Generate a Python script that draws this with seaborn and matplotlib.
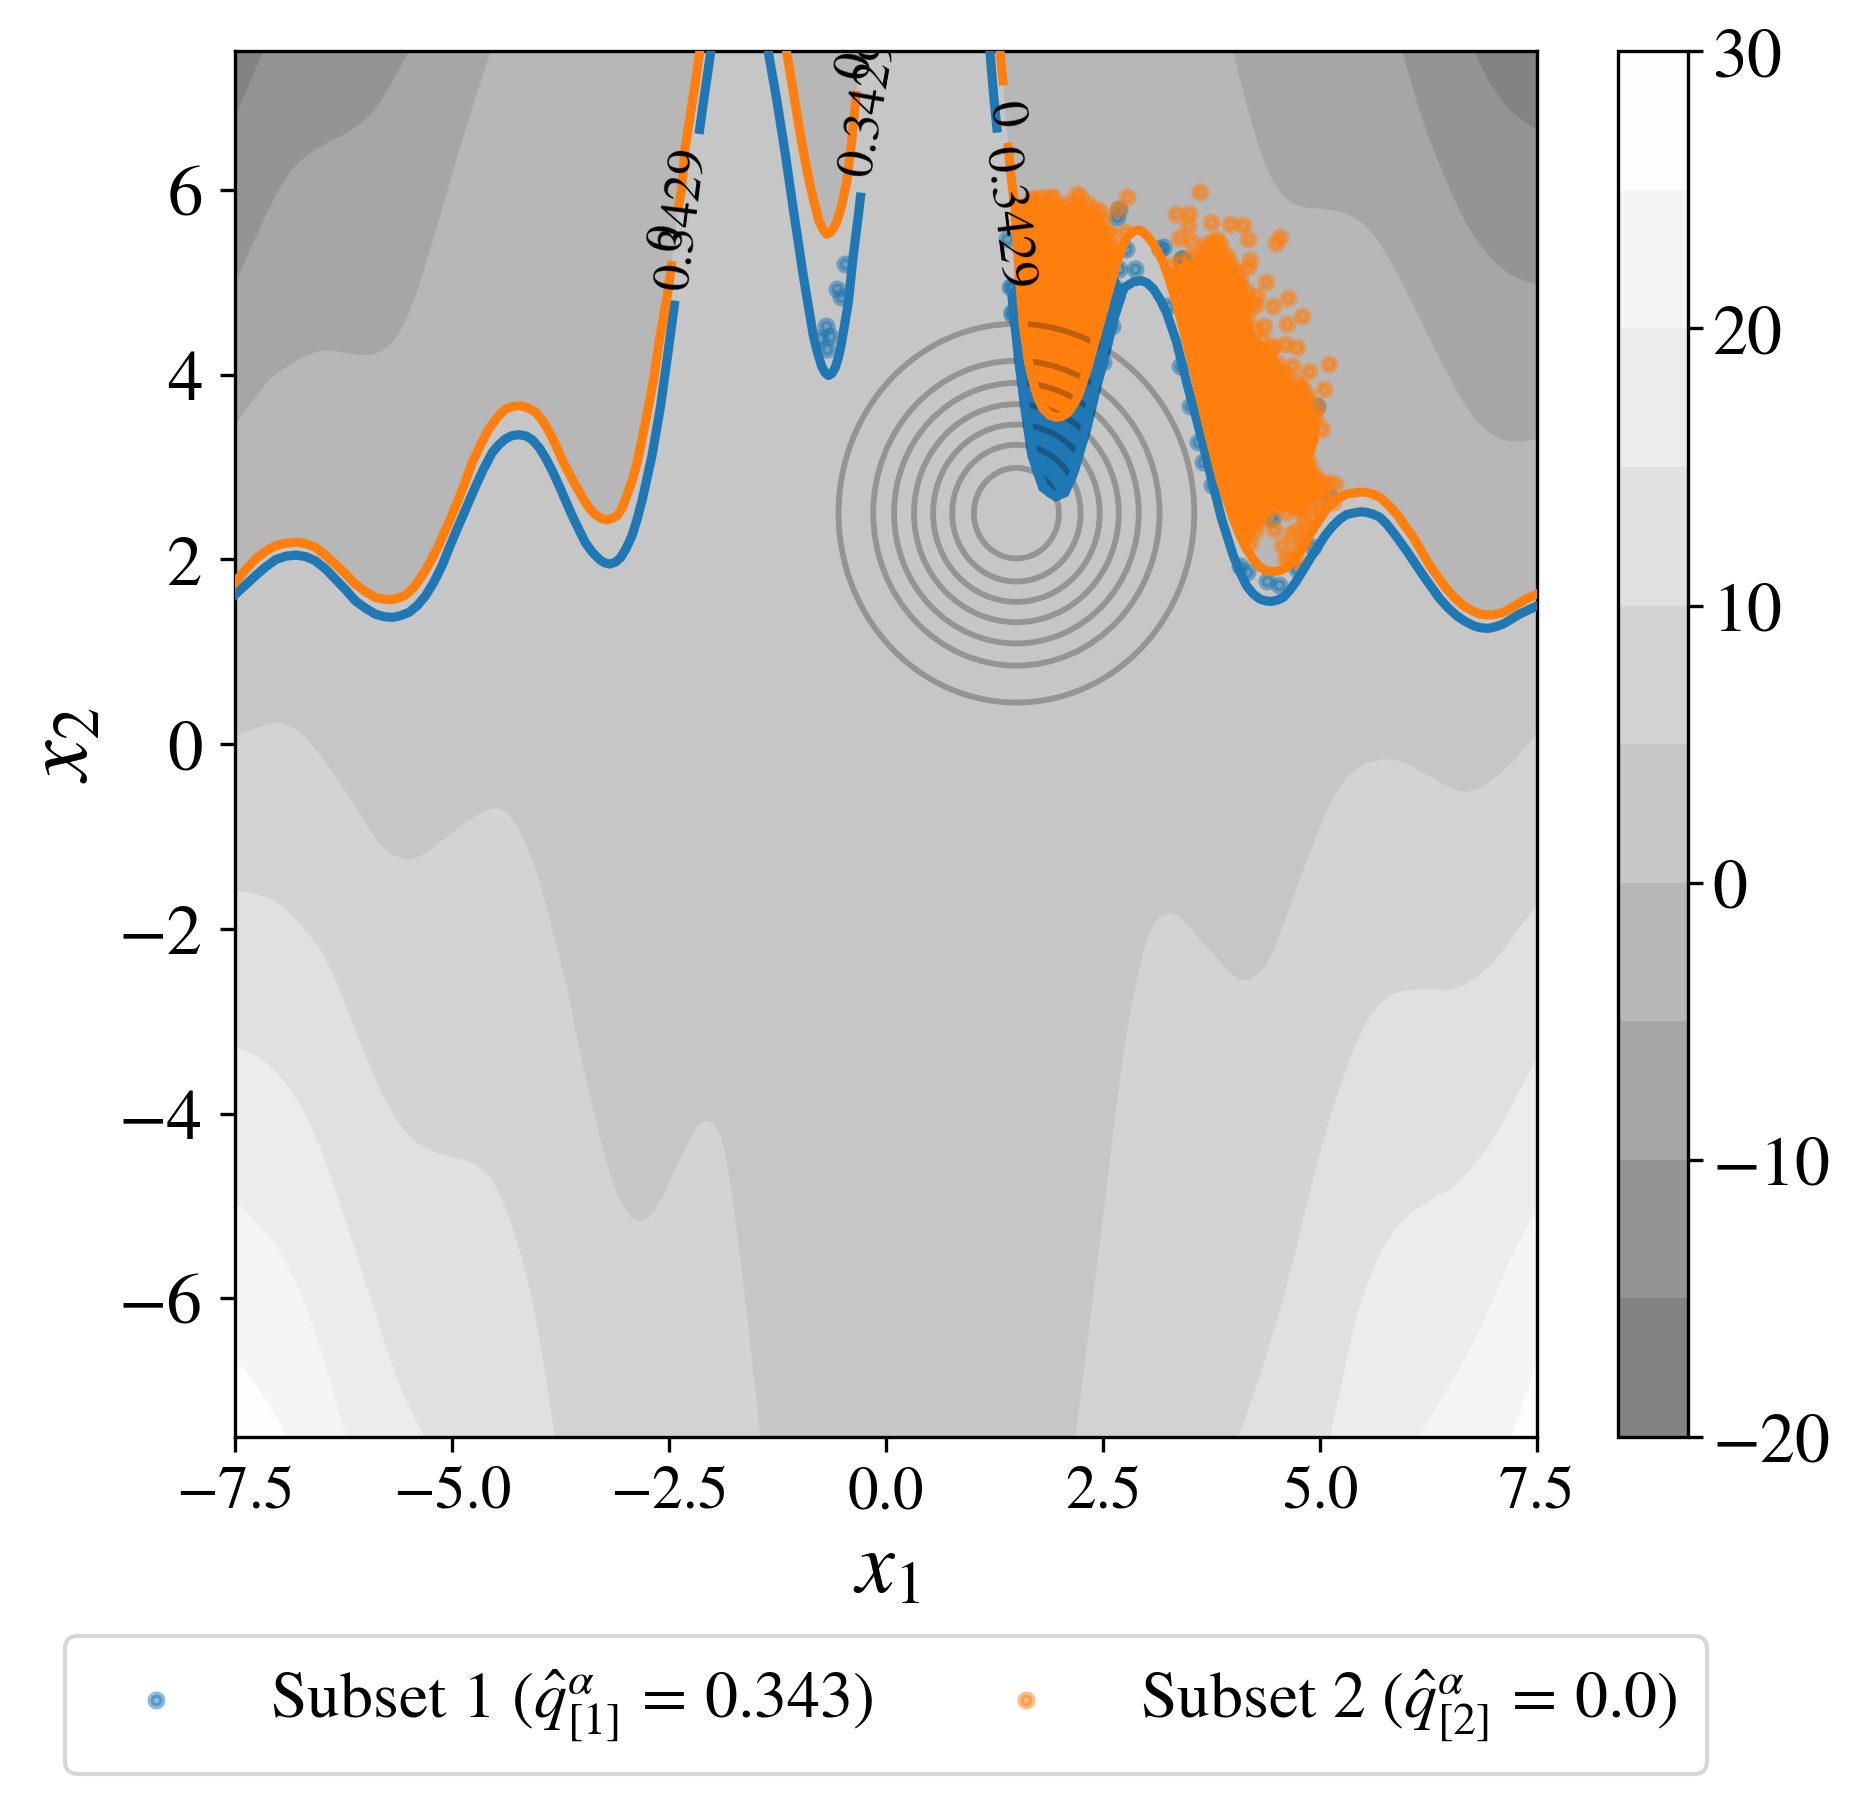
"""Contour bands, q-level curves and the two sample subsets, x1/x2 plane."""
import matplotlib

matplotlib.use("Agg")
import matplotlib.pyplot as plt
from matplotlib.cm import ScalarMappable
from matplotlib.colors import BoundaryNorm, ListedColormap
from matplotlib.patches import Circle, PathPatch
from matplotlib.path import Path
import seaborn as sns

# ---------- Data ----------

LEVELS = [-20, -15, -10, -5, 0, 5, 10, 15, 20, 25, 30]
BAND_COLORS = ["#838383", "#949494", "#a6a6a6", "#b7b7b7", "#c6c6c6",
               "#d3d3d3", "#e0e0e0", "#ececec", "#f5f5f5", "#fdfdfd"]
CBAR_TICKS = [-20, -10, 0, 10, 20, 30]
XTICKS = [-7.5, -5.0, -2.5, 0.0, 2.5, 5.0, 7.5]
YTICKS = [-6, -4, -2, 0, 2, 4, 6]

# q = 0.343 curve (blue), split where the contour labels cut it
blue_a_x = [-7.55, -7.4, -7.27, -7.15, -7.04, -6.92, -6.80, -6.69, -6.58, -6.46, -6.35, -6.23, -6.12, -6.0, -5.89,
            -5.79, -5.69, -5.60, -5.50, -5.40, -5.31, -5.21, -5.12, -5.03, -4.93, -4.83, -4.73, -4.64, -4.54, -4.46,
            -4.39, -4.31, -4.23, -4.15, -4.08, -4.0, -3.93, -3.85, -3.77, -3.62, -3.47, -3.39, -3.31, -3.25, -3.19,
            -3.12, -3.06, -3.0, -2.93, -2.87, -2.81, -2.70, -2.60, -2.51, -2.435]
blue_a_y = [1.58, 1.71, 1.823, 1.92, 1.996, 2.035, 2.047, 2.03, 1.985, 1.895, 1.787, 1.67, 1.552, 1.47, 1.408,
            1.38, 1.372, 1.39, 1.426, 1.505, 1.606, 1.76, 1.931, 2.14, 2.364, 2.58, 2.797, 2.98, 3.158, 3.245,
            3.303, 3.34, 3.350, 3.335, 3.295, 3.21, 3.104, 2.96, 2.797, 2.473, 2.184, 2.08, 2.003, 1.965, 1.949,
            1.97, 2.021, 2.115, 2.256, 2.44, 2.653, 3.122, 3.664, 4.277, 4.80]
blue_b_x = [-2.158, -2.09, -2.02, -1.99]
blue_b_y = [6.605, 7.06, 7.51, 7.7]
blue_c_x = [-1.39, -1.359, -1.263, -1.167, -1.071, -0.956, -0.84, -0.79, -0.744, -0.705, -0.667, -0.63, -0.59, -0.55,
            -0.514, -0.437, -0.38, -0.322, -0.291]
blue_c_y = [7.7, 7.49, 6.98, 6.41, 5.79, 5.07, 4.42, 4.23, 4.09, 4.02, 3.99, 4.01, 4.07, 4.19,
            4.35, 4.78, 5.29, 5.72, 5.97]
blue_d_x = [1.17, 1.196, 1.234, 1.28]
blue_d_y = [7.7, 7.49, 7.06, 6.62]
blue_e_x = [1.457, 1.50, 1.54, 1.58, 1.618, 1.695, 1.75, 1.81, 1.88, 1.945, 2.0, 2.06, 2.12, 2.175, 2.29, 2.406, 2.52,
            2.636, 2.69, 2.75, 2.85, 2.944, 3.01, 3.08, 3.155, 3.23, 3.347, 3.462, 3.596, 3.73, 3.865, 4.0, 4.075,
            4.153, 4.23, 4.307, 4.375, 4.442, 4.51, 4.576, 4.65, 4.73, 4.883, 4.97, 5.056, 5.14, 5.229, 5.305, 5.383,
            5.46, 5.536, 5.61, 5.69, 5.77, 5.844, 5.997, 6.19, 6.382, 6.48, 6.574, 6.67, 6.766, 6.85, 6.938, 7.02,
            7.111, 7.30, 7.55]
blue_e_y = [4.78, 4.46, 4.13, 3.82, 3.555, 3.12, 2.93, 2.797, 2.72, 2.69, 2.70, 2.74, 2.84, 2.978, 3.41, 3.88, 4.31,
            4.71, 4.84, 4.945, 5.005, 5.017, 4.99, 4.927, 4.815, 4.674, 4.349, 3.916, 3.447, 2.942, 2.437, 2.04, 1.865,
            1.715, 1.625, 1.57, 1.55, 1.545, 1.56, 1.589, 1.665, 1.769, 2.004, 2.13, 2.256, 2.355, 2.437, 2.485, 2.502,
            2.515, 2.509, 2.49, 2.455, 2.38, 2.292, 2.094, 1.823, 1.57, 1.47, 1.39, 1.33, 1.282, 1.26, 1.253, 1.27,
            1.30, 1.408, 1.52]

# q = 0 curve (orange)
orange_a_x = [-7.55, -7.41, -7.27, -7.15, -7.04, -6.92, -6.79, -6.69, -6.58, -6.47, -6.35, -6.23, -6.12, -6.0, -5.89,
              -5.80, -5.71, -5.62, -5.54, -5.44, -5.35, -5.25, -5.16, -5.06, -4.96, -4.86, -4.77, -4.67, -4.58, -4.48,
              -4.39, -4.30, -4.22, -4.13, -4.04, -3.96, -3.89, -3.81, -3.74, -3.66, -3.58, -3.50, -3.43, -3.37, -3.31,
              -3.26, -3.21, -3.15, -3.10, -3.04, -2.99, -2.93, -2.87, -2.76, -2.68, -2.61, -2.51, -2.47]
orange_a_y = [1.70, 1.86, 2.003, 2.09, 2.148, 2.175, 2.184, 2.17, 2.13, 2.05, 1.949, 1.84, 1.733, 1.65, 1.589,
              1.57, 1.563, 1.58, 1.614, 1.70, 1.823, 1.98, 2.148, 2.36, 2.581, 2.82, 3.05, 3.25, 3.411, 3.54,
              3.627, 3.655, 3.664, 3.64, 3.591, 3.50, 3.393, 3.24, 3.086, 2.94, 2.797, 2.67, 2.563, 2.50, 2.455,
              2.435, 2.429, 2.445, 2.473, 2.56, 2.689, 2.85, 3.05, 3.555, 3.952, 4.4, 4.93, 5.23]
orange_b_x = [-2.40, -2.358, -2.32, -2.26, -2.20, -2.15, -2.12]
orange_b_y = [5.79, 6.01, 6.44, 6.80, 7.16, 7.49, 7.7]
orange_c_x = [-1.18, -1.148, -1.071, -0.975, -0.879, -0.783, -0.735, -0.687, -0.64, -0.591, -0.55, -0.514, -0.456,
              -0.399, -0.341]
orange_c_y = [7.7, 7.49, 7.06, 6.515, 6.05, 5.685, 5.58, 5.52, 5.54, 5.61, 5.71, 5.83, 6.08, 6.515, 7.07]
orange_d_x = [1.28, 1.311, 1.35]
orange_d_y = [7.7, 7.49, 7.13]
orange_e_x = [1.40, 1.445, 1.484, 1.53, 1.58, 1.64, 1.714, 1.76, 1.81, 1.885, 1.964, 2.03, 2.098, 2.155, 2.214, 2.329,
              2.444, 2.54, 2.636, 2.685, 2.733, 2.78, 2.829, 2.875, 2.924, 3.0, 3.078, 3.135, 3.193, 3.25, 3.308,
              3.423, 3.539, 3.692, 3.846, 4.0, 4.075, 4.153, 4.23, 4.307, 4.385, 4.46, 4.54, 4.614, 4.69, 4.768,
              4.922, 5.075, 5.15, 5.229, 5.305, 5.383, 5.46, 5.536, 5.61, 5.69, 5.785, 5.882, 6.074, 6.266, 6.458,
              6.555, 6.651, 6.75, 6.843, 6.92, 6.996, 7.07, 7.15, 7.342, 7.55]
orange_e_y = [6.51, 6.1, 5.8, 5.1, 4.53, 4.13, 3.844, 3.72, 3.628, 3.56, 3.537, 3.55, 3.59, 3.67, 3.77, 4.097,
              4.49, 4.82, 5.144, 5.29, 5.414, 5.49, 5.54, 5.56, 5.565, 5.51, 5.414, 5.32, 5.216, 5.06, 4.89,
              4.494, 4.06, 3.447, 2.87, 2.437, 2.26, 2.113, 2.0, 1.914, 1.875, 1.867, 1.88, 1.914, 1.99, 2.094,
              2.329, 2.545, 2.615, 2.671, 2.705, 2.718, 2.728, 2.725, 2.705, 2.671, 2.59, 2.491, 2.238, 1.932, 1.679,
              1.58, 1.499, 1.445, 1.408, 1.398, 1.401, 1.415, 1.444, 1.553, 1.65]

# band edges above the q = 0 curve (darker = further out)
edge_m5_left_x = [-7.5, -7.21, -6.975, -6.56, -6.3, -6.0, -5.8, -5.62, -5.45, -5.27, -5.09, -4.86, -4.56]
edge_m5_left_y = [3.46, 3.85, 4.06, 4.27, 4.25, 4.2, 4.25, 4.42, 4.77, 5.31, 5.89, 6.63, 7.5]
edge_m10_left_x = [-7.5, -7.21, -6.92, -6.62, -6.21, -5.92, -5.74, -5.5]
edge_m10_left_y = [5.0, 5.62, 6.16, 6.43, 6.61, 6.82, 7.09, 7.5]
edge_m15_left_x = [-7.5, -7.33, -7.18]
edge_m15_left_y = [6.8, 7.17, 7.5]
edge_m5_right_x = [4.0, 4.1, 4.22, 4.3, 4.384, 4.576, 4.806, 5.075, 5.383, 5.613, 5.844, 6.036, 6.228, 6.458, 6.689,
                   6.92, 7.188, 7.5]
edge_m5_right_y = [7.5, 7.1, 6.7, 6.45, 6.226, 5.901, 5.80, 5.80, 5.72, 5.54, 5.18, 4.82, 4.458, 4.025, 3.628, 3.375,
                   3.26, 3.30]
edge_m10_right_x = [5.95, 6.05, 6.2, 6.3, 6.40, 6.574, 6.766, 6.996, 7.265, 7.5]
edge_m10_right_y = [7.5, 7.15, 6.7, 6.45, 6.226, 5.83, 5.50, 5.216, 5.035, 4.98]
edge_m15_right_x = [6.77, 6.9, 7.07, 7.27, 7.5]
edge_m15_right_y = [7.5, 7.25, 6.98, 6.79, 6.65]

# band edges in the lower half
edge_5_left_x = [-7.5, -7.25, -7.0, -6.73, -6.46, -6.16, -5.83, -5.46, -5.08, -4.57, -4.32, -4.05, -3.76, -3.66, -3.55,
                 -3.395, -3.24, -3.09, -2.93, -2.83, -2.70, -2.55, -2.36, -2.19, -2.07, -1.97, -1.86, -1.69, -1.45]
edge_5_left_y = [0.09, 0.18, 0.25, 0.13, -0.2, -0.6, -1.14, -1.29, -1.01, -0.66, -0.75, -1.27, -2.33, -2.69, -3.26,
                 -3.88, -4.49, -4.92, -5.14, -5.17, -5.10, -4.85, -4.46, -4.13, -4.07, -4.11, -4.35, -5.45, -7.5]
edge_5_right_x = [2.18, 2.46, 2.73, 3.01, 3.28, 3.49, 3.83, 3.96, 4.15, 4.29, 4.44, 4.86, 5.27, 5.82, 6.29, 6.71, 7.12,
                  7.5]
edge_5_right_y = [-7.5, -5.45, -3.26, -1.98, -1.78, -1.98, -2.33, -2.49, -2.58, -2.49, -2.33, -1.20, -0.30, -0.11,
                  -0.37, -0.57, -0.30, 0.12]
edge_10_left_x = [-7.5, -7.13, -6.85, -6.6, -6.45, -6.24, -6.05, -5.89, -5.70, -5.51, -5.28, -5.05, -4.82, -4.64, -4.47,
                  -4.32, -4.16, -4.05, -3.93, -3.82]
edge_10_left_y = [-1.59, -1.62, -1.85, -2.12, -2.33, -2.80, -3.26, -3.63, -3.99, -4.24, -4.40, -4.46, -4.51, -4.60,
                  -4.82, -5.18, -5.68, -6.15, -6.80, -7.5]
edge_10_right_x = [4.06, 4.27, 4.46, 4.65, 4.88, 5.08, 5.27, 5.46, 5.65, 5.88, 6.23, 6.50, 6.73, 6.92, 7.03, 7.25, 7.5]
edge_10_right_y = [-7.5, -6.95, -6.37, -5.76, -4.85, -4.13, -3.59, -3.12, -2.83, -2.67, -2.65, -2.67, -2.58, -2.43,
                   -2.33, -2.05, -1.74]
edge_15_left_x = [-7.5, -7.28, -7.05, -6.81, -6.62, -6.43, -6.24, -6.05, -5.89, -5.70, -5.51, -5.32]
edge_15_left_y = [-3.28, -3.35, -3.52, -3.81, -4.13, -4.60, -5.14, -5.68, -6.15, -6.73, -7.16, -7.5]
edge_15_right_x = [5.11, 5.23, 5.38, 5.57, 5.77, 6.0, 6.30, 6.57, 6.80, 7.03, 7.27, 7.5]
edge_15_right_y = [-7.5, -7.02, -6.30, -5.76, -5.36, -5.10, -4.92, -4.78, -4.53, -4.24, -3.81, -3.39]
edge_20_left_x = [-7.5, -7.28, -7.05, -6.85, -6.66, -6.51, -6.35, -6.22]
edge_20_left_y = [-4.96, -5.14, -5.39, -5.72, -6.15, -6.58, -7.09, -7.5]
edge_20_right_x = [6.13, 6.38, 6.65, 6.88, 7.11, 7.34, 7.5]
edge_20_right_y = [-7.5, -7.13, -6.69, -6.26, -5.76, -5.29, -5.06]
edge_25_left_x = [-7.5, -7.28, -7.08, -6.91]
edge_25_left_y = [-6.64, -6.91, -7.2, -7.5]
edge_25_right_x = [7.21, 7.34, 7.5]
edge_25_right_y = [-7.5, -7.13, -6.68]

# ring radii around the centre
ring_center = (1.5, 2.5)
ring_radii = [0.49, 0.74, 0.96, 1.18, 1.41, 1.65, 2.05]

# subset 1: individually visible points
blue_pts_x = [-0.475, -0.564, -0.522, -0.694, -0.648, -0.763, -0.679, 1.388, 1.445, 1.445, 2.663, 2.686, 2.867, 2.686,
              2.763, 2.656, 2.54, 2.598, 3.193, 3.405, 2.502, 1.426, 1.445, 3.155, 3.404, 3.416, 3.25, 3.385, 3.50,
              3.596, 3.654, 3.75, 4.077, 4.153, 4.384, 4.53, 4.73, 4.92, 4.48, 5.094, 4.441, 4.96]
blue_pts_y = [5.197, 4.927, 4.837, 4.53, 4.414, 4.40, 4.277, 5.468, 4.945, 4.656, 5.703, 5.793, 5.143, 5.143, 5.36,
              4.927, 4.674, 4.53, 5.378, 5.252, 4.133, 4.945, 4.674, 5.36, 5.25, 5.143, 4.746, 4.097, 3.664, 3.267,
              3.05, 2.80, 1.932, 1.86, 1.769, 1.722, 1.896, 2.13, 3.952, 2.697, 2.437, 3.657]
# subset 1: outline of the part where points merge into a solid patch
blue_core_x = [1.42, 1.50, 1.58, 1.65, 1.78, 1.945, 2.08, 2.20, 2.34, 2.46, 2.58, 2.66, 2.74, 2.6, 2.214, 2.098,
               1.964, 1.81, 1.64, 1.58, 1.52]
blue_core_y = [4.85, 4.13, 3.555, 3.12, 2.76, 2.65, 2.70, 2.97, 3.41, 3.88, 4.31, 4.62, 4.85, 5.15, 3.77, 3.59,
               3.537, 3.628, 4.13, 4.53, 5.0]

# subset 2: individually visible points
orange_pts_x = [3.615, 3.339, 3.493, 3.481, 3.377, 3.508, 3.738, 3.961, 4.107, 4.173, 4.537, 4.491, 3.942, 4.192,
                4.173, 4.376, 4.634, 4.453, 4.249, 4.787, 4.622, 4.353, 4.73, 4.595, 4.68, 4.872, 5.106, 5.048, 4.799,
                5.018, 4.96, 5.171, 5.095, 4.472, 4.557, 4.71, 4.653, 4.806, 4.922, 5.152, 4.288, 4.153, 3.808, 3.692,
                4.038, 4.077, 4.269, 4.461, 4.384, 4.576, 4.73, 4.845, 4.922, 4.883, 4.845, 4.96, 5.037, 4.998, 4.845,
                4.73, 2.771, 2.675, 2.752, 2.50, 2.195, 1.887, 1.695, 2.329, 2.464, 2.54, 2.617,
                3.27, 3.385, 3.50, 3.60, 3.67, 3.75, 3.85, 3.90, 3.98, 4.08, 4.15, 4.21, 4.17, 4.25, 4.33, 4.44, 4.50,
                4.61, 4.77, 4.86, 4.94, 4.88, 4.85, 4.88, 4.94, 5.02, 5.08, 4.92, 4.77, 4.61, 4.46, 4.35, 4.25, 4.19,
                4.67, 4.81, 4.75, 4.60, 1.56, 1.68, 1.79, 1.925, 2.02, 2.12, 2.23, 2.39, 2.50, 2.58, 2.64, 2.58]
orange_pts_y = [5.973, 5.739, 5.739, 5.613, 5.475, 5.45, 5.649, 5.631, 5.62, 5.468, 5.486, 5.425, 5.259, 5.244,
                5.161, 4.999, 4.826, 4.746, 4.754, 4.638, 4.548, 4.523, 4.295, 4.331, 4.097, 4.043, 4.115, 3.844,
                3.844, 3.411, 3.646, 2.816, 2.834, 2.328, 2.155, 2.31, 2.004, 2.184, 2.473, 2.617, 2.401, 2.292,
                5.468, 5.36, 5.107, 4.963, 4.855, 4.313, 4.205, 4.025, 3.916, 3.772, 3.555, 3.303, 3.086, 2.87, 2.726,
                2.545, 2.328, 2.112, 5.919, 5.793, 5.54, 5.25, 5.955, 5.919, 5.90, 5.847, 5.775, 5.54, 5.36,
                5.18, 5.23, 5.27, 5.31, 5.40, 5.45, 5.41, 5.31, 5.16, 5.03, 4.91, 4.78, 4.66, 4.49, 4.39, 4.28, 4.13,
                3.99, 3.88, 3.73, 3.52, 3.38, 3.19, 3.01, 2.90, 2.80, 2.65, 2.56, 2.51, 2.51, 2.56, 2.47, 2.31, 2.18,
                2.26, 2.40, 1.98, 2.02, 5.83, 5.90, 5.92, 5.92, 5.83, 5.87, 5.92, 5.79, 5.68, 5.52, 5.38, 5.18]
# subset 2: outlines of the two solid patches
orange_core_a_x = [1.484, 1.695, 1.887, 2.08, 2.195, 2.329, 2.464, 2.56, 2.62, 2.636, 2.54, 2.444, 2.329, 2.214, 2.098,
                   1.964, 1.81, 1.714, 1.64, 1.58, 1.522, 1.484]
orange_core_a_y = [5.79, 5.88, 5.90, 5.80, 5.91, 5.80, 5.72, 5.48, 5.30, 5.144, 4.82, 4.49, 4.097, 3.77, 3.59,
                   3.537, 3.628, 3.844, 4.13, 4.53, 4.999, 5.504]
orange_core_b_x = [3.75, 3.885, 4.04, 4.17, 4.17, 4.25, 4.46, 4.58, 4.85, 4.96, 4.96, 4.88, 4.96, 5.04, 4.77, 4.46,
                   4.27, 4.15, 4.0, 3.846, 3.692, 3.539, 3.423, 3.308, 3.23, 3.42, 3.58]
orange_core_b_y = [5.48, 5.34, 5.09, 4.84, 4.62, 4.40, 4.24, 3.98, 3.72, 3.50, 3.30, 3.08, 2.90, 2.72, 2.50, 2.56,
                   2.36, 2.12, 2.437, 2.87, 3.447, 4.06, 4.494, 4.89, 5.12, 5.19, 5.24]

# contour labels: text, x, y, rotation
contour_labels = [
    ("0.3429", -2.35, 5.70, 83), ("0", -2.49, 5.49, 79),
    ("0.3429", -0.19, 6.93, 80), ("0", -0.34, 7.36, 78),
    ("0", 1.35, 6.82, -82), ("0.3429", 1.40, 5.70, -83),
]

# ---------- Style ----------

BLUE = "#1f77b4"
ORANGE = "#ff7f0e"

sns.set_style("ticks", rc={"axes.edgecolor": "black", "xtick.color": "black", "ytick.color": "black",
                           "text.color": "black", "axes.labelcolor": "black"})
plt.rcParams["font.family"] = ["STIXGeneral", "DejaVu Serif"]
plt.rcParams["mathtext.fontset"] = "stix"


def add_band(ax, xs, ys, corner, color):
    """Fill a band from its edge points, rounding the edge between them, closed through one axes corner."""
    verts = [(xs[0], ys[0])]
    codes = [Path.MOVETO]
    for i in range(1, len(xs) - 1):
        verts += [(xs[i], ys[i]), ((xs[i] + xs[i + 1]) / 2, (ys[i] + ys[i + 1]) / 2)]
        codes += [Path.CURVE3, Path.CURVE3]
    verts += [(xs[-1], ys[-1]), corner, corner]
    codes += [Path.LINETO, Path.LINETO, Path.CLOSEPOLY]
    ax.add_patch(PathPatch(Path(verts, codes), facecolor=color, edgecolor="none", lw=0, zorder=1))


fig = plt.figure(figsize=(1864 / 300, 1806 / 300), dpi=300)
ax = fig.add_axes([0.12634, 0.20377, 0.69823, 0.76728])
cax = fig.add_axes([0.86803, 0.20377, 0.03755, 0.76728])

# ---------- Bands ----------

ax.set_facecolor(BAND_COLORS[4])
fill_kw = dict(lw=0, zorder=1)
# above q = 0
ax.fill(orange_a_x + orange_b_x + [-7.55], orange_a_y + orange_b_y + [7.7], color=BAND_COLORS[3], **fill_kw)
ax.fill(orange_c_x + [-0.30, -0.25], orange_c_y + [7.4, 7.7], color=BAND_COLORS[3], **fill_kw)
ax.fill(orange_d_x + orange_e_x + [7.55], orange_d_y + orange_e_y + [7.7], color=BAND_COLORS[3], **fill_kw)
upper_edges = [
    (2, edge_m5_left_x, edge_m5_left_y, edge_m5_right_x, edge_m5_right_y),
    (1, edge_m10_left_x, edge_m10_left_y, edge_m10_right_x, edge_m10_right_y),
    (0, edge_m15_left_x, edge_m15_left_y, edge_m15_right_x, edge_m15_right_y),
]
for band, lx, ly, rx, ry in upper_edges:
    add_band(ax, lx, ly, (-7.5, 7.5), BAND_COLORS[band])
    add_band(ax, rx, ry, (7.5, 7.5), BAND_COLORS[band])
# lower half, lightest last
lower_edges = [
    (5, edge_5_left_x, edge_5_left_y, edge_5_right_x, edge_5_right_y),
    (6, edge_10_left_x, edge_10_left_y, edge_10_right_x, edge_10_right_y),
    (7, edge_15_left_x, edge_15_left_y, edge_15_right_x, edge_15_right_y),
    (8, edge_20_left_x, edge_20_left_y, edge_20_right_x, edge_20_right_y),
    (9, edge_25_left_x, edge_25_left_y, edge_25_right_x, edge_25_right_y),
]
for band, lx, ly, rx, ry in lower_edges:
    add_band(ax, lx, ly, (-7.5, -7.5), BAND_COLORS[band])
    add_band(ax, rx, ry, (7.5, -7.5), BAND_COLORS[band])

# ---------- Samples ----------

label_1 = r"Subset 1 ($\hat{q}_{[1]}^{\alpha}\,=\,0.343$)"
label_2 = r"Subset 2 ($\hat{q}_{[2]}^{\alpha}\,=\,0.0$)"
point_kw = dict(s=8, alpha=0.5, linewidth=1.5, ax=ax, legend=False)
sns.scatterplot(x=blue_pts_x, y=blue_pts_y, color=BLUE, edgecolor=BLUE, zorder=3, label=label_1, **point_kw)
ax.fill(blue_core_x, blue_core_y, color=BLUE, lw=1.0, zorder=3)
sns.scatterplot(x=orange_pts_x, y=orange_pts_y, color=ORANGE, edgecolor=ORANGE, zorder=4, label=label_2, **point_kw)
ax.fill(orange_core_a_x, orange_core_a_y, color=ORANGE, lw=1.0, zorder=4)
ax.fill(orange_core_b_x, orange_core_b_y, color=ORANGE, lw=1.0, zorder=4)

# ---------- Rings and curves ----------

for r in ring_radii:
    ax.add_patch(Circle(ring_center, r, fill=False, edgecolor="black", alpha=0.25, lw=1.4, zorder=5))

line_kw = dict(sort=False, estimator=None, errorbar=None, lw=2.2, ax=ax, solid_capstyle="butt", legend=False)
for sx, sy in [(blue_a_x, blue_a_y), (blue_b_x, blue_b_y), (blue_c_x, blue_c_y), (blue_d_x, blue_d_y),
               (blue_e_x, blue_e_y)]:
    sns.lineplot(x=sx, y=sy, color=BLUE, zorder=6, **line_kw)
for sx, sy in [(orange_a_x, orange_a_y), (orange_b_x, orange_b_y), (orange_c_x, orange_c_y), (orange_d_x, orange_d_y),
               (orange_e_x, orange_e_y)]:
    sns.lineplot(x=sx, y=sy, color=ORANGE, zorder=7, **line_kw)

for text, tx, ty, rot in contour_labels:
    ax.text(tx, ty, text, rotation=rot, rotation_mode="anchor", ha="center", va="center", fontsize=12.5,
            clip_on=True, zorder=8)

# ---------- Axes ----------

ax.set_xlim(-7.5, 7.5)
ax.set_ylim(-7.5, 7.5)
ax.set_xticks(XTICKS)
ax.set_yticks(YTICKS)
ax.tick_params(axis="x", labelsize=14.7)
ax.tick_params(axis="y", labelsize=17, pad=4.4)
ax.set_xlabel(r"$x_1$", fontsize=21, labelpad=2.5)
ax.set_ylabel(r"$x_2$", fontsize=22, labelpad=2.5)

cbar = fig.colorbar(
    ScalarMappable(norm=BoundaryNorm(LEVELS, len(BAND_COLORS)), cmap=ListedColormap(BAND_COLORS)),
    cax=cax, ticks=CBAR_TICKS,
)
cbar.ax.tick_params(labelsize=16.8, pad=2.4)
cbar.ax.minorticks_off()

handles, labels = ax.get_legend_handles_labels()
fig.legend(handles, labels, ncol=2, loc="center", bbox_to_anchor=(0.4754, 0.0553), fontsize=15.8,
           handlelength=1.85, handletextpad=0.8, columnspacing=1.4, borderpad=0.46)

fig.savefig("out.png", dpi=300)
plt.close(fig)
